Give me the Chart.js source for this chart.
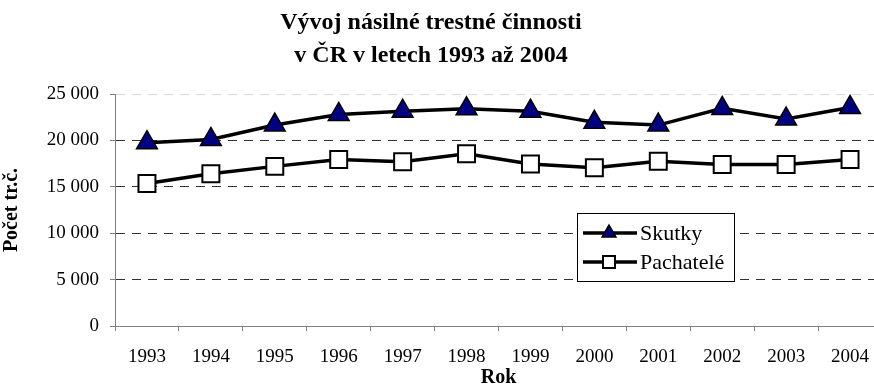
<!DOCTYPE html>
<html lang="cs">
<head>
  <meta charset="UTF-8">
  <title>Vývoj násilné trestné činnosti v ČR v letech 1993 až 2004</title>
  <style>
    html, body {
      margin: 0;
      padding: 0;
      background: #fff;
      overflow: hidden;
    }
    #trestnaChart {
      display: block;
    }
  </style>
  <script src="https://cdn.jsdelivr.net/npm/chart.js"></script>
</head>
<body>
<canvas id="trestnaChart" width="896" height="384"></canvas>

<script>
  // Roky a počty (skutky / pachatelé)
  const roky = ['1993', '1994', '1995', '1996', '1997', '1998', '1999', '2000', '2001', '2002', '2003', '2004'];
  const skutky = [19750, 20100, 21650, 22800, 23150, 23400, 23150, 21950, 21650, 23450, 22300, 23550];
  const pachatele = [15350, 16400, 17200, 17950, 17700, 18550, 17450, 17050, 17750, 17400, 17400, 17950];
  const titulek = ['Vývoj násilné trestné činnosti', 'v ČR v letech 1993 až 2004'];
  const osaYTicks = [0, 5000, 10000, 15000, 20000, 25000];

  const serif = '"Liberation Serif", "Times New Roman", serif';
  const tmavaModra = '#000080';

  // formát 25 000
  function formatCislo(v) {
    return String(v).replace(/\B(?=(\d{3})+(?!\d))/g, ' ');
  }

  // Nadpis grafu – dva řádky nad grafem
  const nadpisPlugin = {
    id: 'nadpis',
    afterDraw(chart) {
      const ctx = chart.ctx;
      ctx.save();
      ctx.fillStyle = '#000';
      ctx.font = 'bold 24px ' + serif;
      ctx.textAlign = 'center';
      ctx.textBaseline = 'alphabetic';
      ctx.fillText(titulek[0], 431, 29);
      ctx.fillText(titulek[1], 431, 62);
      ctx.restore();
    }
  };

  // Legenda v rámečku: čára s bodem + popisek
  function znacka(ctx, typ, x, y, r) {
    ctx.beginPath();
    if (typ === 'triangle') {
      const a = r * Math.sqrt(3) / 2;
      ctx.moveTo(x, y - r);
      ctx.lineTo(x + a, y + r / 2);
      ctx.lineTo(x - a, y + r / 2);
      ctx.closePath();
      ctx.fillStyle = tmavaModra;
      ctx.lineWidth = 1.5;
    } else {
      ctx.rect(x - r, y - r, 2 * r, 2 * r);
      ctx.fillStyle = '#fff';
      ctx.lineWidth = 2;
    }
    ctx.strokeStyle = '#000';
    ctx.fill();
    ctx.stroke();
  }

  const legendaPlugin = {
    id: 'legendaRamecek',
    afterDraw(chart) {
      const ctx = chart.ctx;
      const bx = 577, by = 213, bw = 157, bh = 68;
      ctx.save();
      ctx.fillStyle = '#fff';
      ctx.fillRect(bx, by, bw, bh);
      ctx.strokeStyle = '#000';
      ctx.lineWidth = 1;
      ctx.strokeRect(bx + 0.5, by + 0.5, bw, bh);

      const radky = [
        { text: chart.data.datasets[0].label, typ: 'triangle', y: by + 20, r: 8 },
        { text: chart.data.datasets[1].label, typ: 'rect', y: by + 49, r: 6 }
      ];
      radky.forEach(rd => {
        ctx.beginPath();
        ctx.moveTo(bx + 6, rd.y);
        ctx.lineTo(bx + 60, rd.y);
        ctx.strokeStyle = '#000';
        ctx.lineWidth = 3.5;
        ctx.stroke();
        znacka(ctx, rd.typ, bx + 32, rd.y, rd.r);
        ctx.fillStyle = '#000';
        ctx.font = '22px ' + serif;
        ctx.textAlign = 'left';
        ctx.textBaseline = 'middle';
        ctx.fillText(rd.text, bx + 63, rd.y + 1);
      });
      ctx.restore();
    }
  };

  const data = {
    labels: roky,
    datasets: [
      {
        label: 'Skutky',
        data: skutky,
        borderColor: '#000',
        borderWidth: 3.5,
        pointStyle: 'triangle',
        pointRadius: 12,
        pointBackgroundColor: tmavaModra,
        pointBorderColor: '#000',
        pointBorderWidth: 1.5,
        tension: 0
      },
      {
        label: 'Pachatelé',
        data: pachatele,
        borderColor: '#000',
        borderWidth: 3.5,
        pointStyle: 'rect',
        pointRadius: 12,
        pointBackgroundColor: '#fff',
        pointBorderColor: '#000',
        pointBorderWidth: 2,
        tension: 0
      }
    ]
  };

  const config = {
    type: 'line',
    data: data,
    options: {
      responsive: false,
      animation: false,
      layout: { padding: { top: 94, right: 0, bottom: 0, left: 0 } },
      plugins: {
        legend: { display: false },
        title: { display: false },
        tooltip: { enabled: false }
      },
      scales: {
        x: {
          offset: true,
          afterFit(scale) { scale.height = 58; },
          grid: {
            offset: true,
            drawOnChartArea: false,
            tickLength: 5,
            tickColor: '#808080'
          },
          border: { color: '#808080', width: 1 },
          ticks: {
            color: '#000',
            font: { family: serif, size: 19 },
            padding: 15,
            maxRotation: 0
          },
          title: {
            display: true,
            text: 'Rok',
            color: '#000',
            font: { family: serif, size: 20, weight: 'bold', lineHeight: 1 },
            padding: { top: 0, bottom: -4 }
          }
        },
        y: {
          min: 0,
          max: 25000,
          afterFit(scale) { scale.width = 115; },
          afterBuildTicks(scale) {
            scale.ticks = osaYTicks.map(v => ({ value: v }));
          },
          grid: {
            tickLength: 5,
            tickColor: '#808080',
            color(ctx) {
              const v = ctx.tick ? ctx.tick.value : null;
              if (v === 0) return 'rgba(0,0,0,0)';
              if (v === 25000) return '#d8d8d8';
              return '#333';
            }
          },
          border: { color: '#808080', width: 1, dash: [9, 7] },
          ticks: {
            color: '#000',
            font: { family: serif, size: 19 },
            padding: 11,
            callback: v => formatCislo(v)
          },
          title: {
            display: true,
            text: 'Počet tr.č.',
            color: '#000',
            font: { family: serif, size: 20, weight: 'bold' },
            padding: { top: 0, bottom: 8 }
          }
        }
      }
    },
    plugins: [nadpisPlugin, legendaPlugin]
  };

  const ctxTrestna = document.getElementById('trestnaChart').getContext('2d');
  new Chart(ctxTrestna, config);
</script>
</body>
</html>
